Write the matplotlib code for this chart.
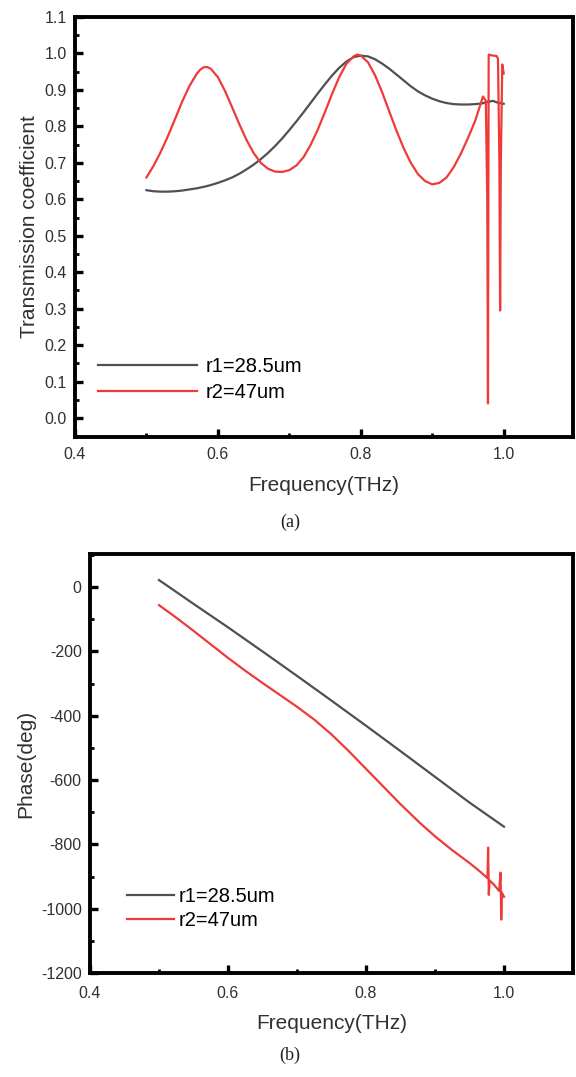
import matplotlib
matplotlib.use("Agg")
import matplotlib.pyplot as plt
from matplotlib.ticker import MultipleLocator

# ---------------- data ----------------
freq_r1_t = [0.50, 0.51, 0.52, 0.53, 0.54, 0.55, 0.56, 0.57, 0.58, 0.59, 0.60,
             0.61, 0.62, 0.63, 0.64, 0.65, 0.66, 0.67, 0.68, 0.69, 0.70,
             0.71, 0.72, 0.73, 0.74, 0.75, 0.76, 0.77, 0.78, 0.79, 0.80,
             0.81, 0.82, 0.83, 0.84, 0.85, 0.86, 0.87, 0.88, 0.89, 0.90,
             0.91, 0.92, 0.93, 0.94, 0.95, 0.96, 0.97, 0.975, 0.98, 0.985, 0.99, 1.00]
trans_r1 = [0.625, 0.622, 0.621, 0.621, 0.622, 0.624, 0.627, 0.630, 0.634, 0.639, 0.645,
            0.652, 0.660, 0.670, 0.682, 0.695, 0.710, 0.727, 0.746, 0.767, 0.790,
            0.814, 0.839, 0.865, 0.891, 0.916, 0.940, 0.961, 0.978, 0.990, 0.994,
            0.992, 0.984, 0.972, 0.958, 0.942, 0.926, 0.910, 0.896, 0.885, 0.876,
            0.869, 0.864, 0.861, 0.860, 0.860, 0.861, 0.863, 0.866, 0.868, 0.870, 0.866, 0.862]

freq_r2_t = [0.50, 0.51, 0.52, 0.53, 0.54, 0.55, 0.56, 0.57, 0.575, 0.58, 0.585, 0.59, 0.60,
             0.61, 0.62, 0.63, 0.64, 0.65, 0.66, 0.67, 0.68, 0.69, 0.70,
             0.71, 0.72, 0.73, 0.74, 0.75, 0.76, 0.77, 0.78, 0.79, 0.795, 0.80,
             0.81, 0.82, 0.83, 0.84, 0.85, 0.86, 0.87, 0.88, 0.89, 0.90,
             0.91, 0.92, 0.93, 0.94, 0.95, 0.96, 0.965, 0.971, 0.975, 0.977, 0.978,
             0.9785, 0.979, 0.982, 0.990, 0.992, 0.994, 0.995, 0.996, 0.998, 1.000]
trans_r2 = [0.660, 0.692, 0.730, 0.773, 0.820, 0.868, 0.910, 0.943, 0.955, 0.962, 0.963, 0.958, 0.935,
            0.897, 0.852, 0.806, 0.763, 0.727, 0.700, 0.684, 0.676, 0.675, 0.680,
            0.693, 0.716, 0.750, 0.792, 0.840, 0.890, 0.936, 0.972, 0.992, 0.997, 0.994,
            0.976, 0.940, 0.893, 0.840, 0.788, 0.740, 0.700, 0.669, 0.650, 0.641,
            0.645, 0.660, 0.688, 0.725, 0.768, 0.815, 0.845, 0.882, 0.870, 0.600, 0.040,
            0.600, 0.997, 0.995, 0.993, 0.986, 0.700, 0.295, 0.700, 0.970, 0.945]

freq_r1_p = [0.50, 0.55, 0.60, 0.65, 0.70, 0.75, 0.80, 0.85, 0.90, 0.95, 1.00]
phase_r1 = [22, -52, -125, -200, -276, -353, -431, -510, -590, -670, -745]

freq_r2_p = [0.500, 0.525, 0.550, 0.575, 0.600, 0.625, 0.650, 0.675, 0.700, 0.725,
             0.750, 0.775, 0.800, 0.825, 0.850, 0.878, 0.900, 0.925, 0.950, 0.965,
             0.976, 0.977, 0.978, 0.979, 0.985, 0.993, 0.995, 0.996, 0.997, 1.000]
phase_r2 = [-56, -95, -136, -178, -220, -260, -298, -335, -372, -412,
            -458, -510, -565, -620, -675, -733, -775, -818, -858, -884,
            -905, -810, -957, -912, -924, -945, -888, -1034, -950, -963]

labels = ["r1=28.5um", "r2=47um"]
colors = ["#505050", "#f03a3a"]

# ---------------- figure ----------------
W, H = 576, 1077
fig = plt.figure(figsize=(W / 100, H / 100), dpi=100)
plt.rcParams['font.family'] = ['Liberation Sans', 'DejaVu Sans']

def px_axes(l, t, r, b):
    return fig.add_axes([l / W, 1 - b / H, (r - l) / W, (b - t) / H])

tick_col = "#303030"

def style(ax, xpad):
    for s in ax.spines.values():
        s.set_linewidth(2.8)
    ax.tick_params(which='both', direction='in', top=False, right=False,
                   labelsize=11.5, labelcolor=tick_col)
    ax.tick_params(which='major', length=6, width=2.4)
    ax.tick_params(which='minor', length=3, width=2.0)
    ax.tick_params(axis='y', which='major', pad=6)
    ax.tick_params(axis='x', which='major', pad=xpad)

# ---- panel (a) ----
ax1 = px_axes(75, 17, 573, 437)
ax1.plot(freq_r1_t, trans_r1, color=colors[0], lw=1.6, label=labels[0])
ax1.plot(freq_r2_t, trans_r2, color=colors[1], lw=1.6, label=labels[1])
ax1.set_xlim(0.4, 1.097)
ax1.set_ylim(-0.052, 1.1)
ax1.xaxis.set_minor_locator(MultipleLocator(0.1))
ax1.yaxis.set_minor_locator(MultipleLocator(0.05))
ax1.set_yticks([i / 10 for i in range(12)])
ax1.set_yticklabels([f"{i/10:.1f}" for i in range(12)])
ax1.set_xticks([0.4, 0.6, 0.8, 1.0])
ax1.set_xticklabels(["0.4", "0.6", "0.8", "1.0"])
style(ax1, 7.5)
ax1.set_xlabel("Frequency(THz)", fontsize=15, color=tick_col, labelpad=10)
ax1.set_ylabel("Transmission coefficient", fontsize=15, color=tick_col, labelpad=4)
ax1.legend(loc='upper left', bbox_to_anchor=(0.047, 0.19), frameon=False,
           fontsize=14.5, handlelength=4.9, handletextpad=0.4, labelspacing=0.35,
           borderpad=0, borderaxespad=0)
fig.text(290 / W, 1 - 522 / H, "(a)", ha='center', va='center',
         fontsize=13, family=['Liberation Serif', 'DejaVu Serif'], color='#202020')

# ---- panel (b) ----
ax2 = px_axes(90, 554, 573, 973)
ax2.plot(freq_r1_p, phase_r1, color=colors[0], lw=1.6, label=labels[0])
ax2.plot(freq_r2_p, phase_r2, color=colors[1], lw=1.6, label=labels[1])
ax2.set_xlim(0.4, 1.1)
ax2.set_ylim(-1200, 103)
ax2.xaxis.set_minor_locator(MultipleLocator(0.1))
ax2.yaxis.set_minor_locator(MultipleLocator(100))
ax2.set_xticks([0.4, 0.6, 0.8, 1.0])
ax2.set_xticklabels(["0.4", "0.6", "0.8", "1.0"])
ax2.set_yticks(list(range(-1200, 1, 200)))
ax2.set_yticklabels([str(v) for v in range(-1200, 1, 200)])
style(ax2, 9.5)
ax2.set_xlabel("Frequency(THz)", fontsize=15, color=tick_col, labelpad=9.5)
ax2.set_ylabel("Phase(deg)", fontsize=15, color=tick_col, labelpad=4)
ax2.legend(loc='upper left', bbox_to_anchor=(0.077, 0.205), frameon=False,
           fontsize=14.5, handlelength=2.3, handletextpad=0.25, labelspacing=0.25,
           borderpad=0, borderaxespad=0)
fig.text(290 / W, 1 - 1055 / H, "(b)", ha='center', va='center',
         fontsize=13, family=['Liberation Serif', 'DejaVu Serif'], color='#202020')

fig.savefig("out.png", dpi=100)
